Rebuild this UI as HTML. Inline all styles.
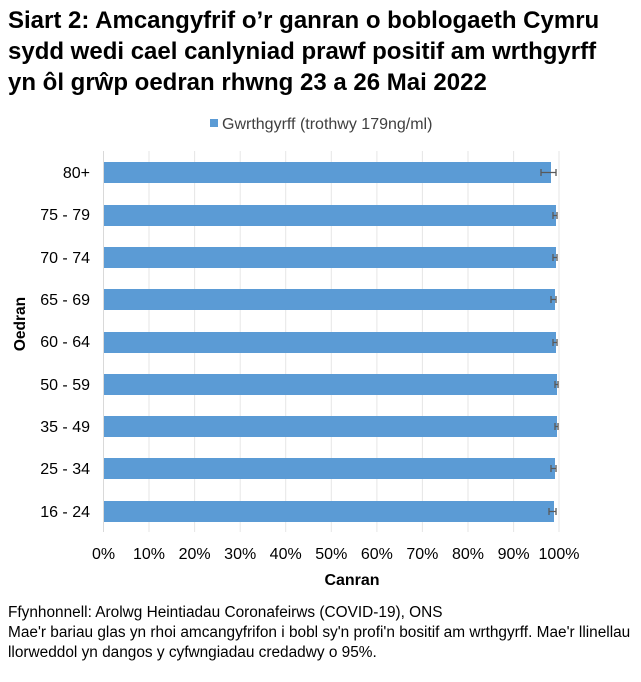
<!DOCTYPE html>
<html><head><meta charset="utf-8"><style>
body{margin:0;background:#fff;width:641px;height:677px;overflow:hidden;font-family:"Liberation Sans",Arial,sans-serif}
</style></head><body>
<svg width="641" height="677" xmlns="http://www.w3.org/2000/svg" font-family="Liberation Sans, Arial, sans-serif">
<text font-size="24" font-weight="bold" fill="#000">
<tspan x="8" y="28">Siart 2: Amcangyfrif o’r ganran o boblogaeth Cymru</tspan>
<tspan x="8" y="59">sydd wedi cael canlyniad prawf positif am wrthgyrff</tspan>
<tspan x="8" y="90">yn ôl grŵp oedran rhwng 23 a 26 Mai 2022</tspan>
</text>
<rect x="210" y="119" width="8" height="8" fill="#5b9bd5"/>
<text x="222" y="129" font-size="16" fill="#404040">Gwrthgyrff (trothwy 179ng/ml)</text>
<g stroke="#e6e6e6" stroke-width="1">
<line x1="149" y1="151" x2="149" y2="532"/><line x1="194.6" y1="151" x2="194.6" y2="532"/>
<line x1="240.2" y1="151" x2="240.2" y2="532"/><line x1="285.7" y1="151" x2="285.7" y2="532"/>
<line x1="331.3" y1="151" x2="331.3" y2="532"/><line x1="376.9" y1="151" x2="376.9" y2="532"/>
<line x1="422.4" y1="151" x2="422.4" y2="532"/><line x1="468" y1="151" x2="468" y2="532"/>
<line x1="513.6" y1="151" x2="513.6" y2="532"/><line x1="559" y1="151" x2="559" y2="532"/>
</g>
<line x1="103.5" y1="151" x2="103.5" y2="532" stroke="#d9d9d9"/>
<g fill="#5b9bd5">
<rect x="104" y="162" width="447" height="21"/>
<rect x="104" y="205" width="452" height="21"/>
<rect x="104" y="247" width="452" height="21"/>
<rect x="104" y="289" width="451" height="21"/>
<rect x="104" y="332" width="452" height="21"/>
<rect x="104" y="374" width="453" height="21"/>
<rect x="104" y="416" width="453" height="21"/>
<rect x="104" y="458" width="451" height="21"/>
<rect x="104" y="501" width="450" height="21"/>
</g>
<g stroke="#595959" stroke-width="1.3">
<path d="M541 172.5H556M541 169V176M556 169V176"/>
<path d="M553 215.5H557M553 212V219M557 212V219"/>
<path d="M553 257.5H557M553 254V261M557 254V261"/>
<path d="M551 299.5H556M551 296V303M556 296V303"/>
<path d="M553 342.5H557M553 339V346M557 339V346"/>
<path d="M555 384.5H558M555 381V388M558 381V388"/>
<path d="M555 426.5H558M555 423V430M558 423V430"/>
<path d="M551 468.5H556M551 465V472M556 465V472"/>
<path d="M549 511.5H556M549 508V515M556 508V515"/>
</g>
<g font-size="16" fill="#000" text-anchor="end">
<text x="90" y="178">80+</text><text x="90" y="220">75 - 79</text><text x="90" y="263">70 - 74</text>
<text x="90" y="305">65 - 69</text><text x="90" y="347">60 - 64</text><text x="90" y="390">50 - 59</text>
<text x="90" y="432">35 - 49</text><text x="90" y="474">25 - 34</text><text x="90" y="517">16 - 24</text>
</g>
<g font-size="16" fill="#000" text-anchor="middle">
<text x="103.5" y="559">0%</text><text x="149" y="559">10%</text><text x="194.6" y="559">20%</text>
<text x="240.2" y="559">30%</text><text x="285.7" y="559">40%</text><text x="331.3" y="559">50%</text>
<text x="376.9" y="559">60%</text><text x="422.4" y="559">70%</text><text x="468" y="559">80%</text>
<text x="513.6" y="559">90%</text><text x="559" y="559">100%</text>
</g>
<text x="352" y="585" font-size="16" font-weight="bold" text-anchor="middle">Canran</text>
<text transform="translate(25,324) rotate(-90)" font-size="15.5" font-weight="bold" text-anchor="middle">Oedran</text>
<g font-size="15.4" fill="#000">
<text x="8" y="617">Ffynhonnell: Arolwg Heintiadau Coronafeirws (COVID-19), ONS</text>
<text x="8" y="637">Mae'r bariau glas yn rhoi amcangyfrifon i bobl sy'n profi'n bositif am wrthgyrff. Mae'r llinellau</text>
<text x="8" y="657">llorweddol yn dangos y cyfwngiadau credadwy o 95%.</text>
</g>
</svg>
</body></html>
